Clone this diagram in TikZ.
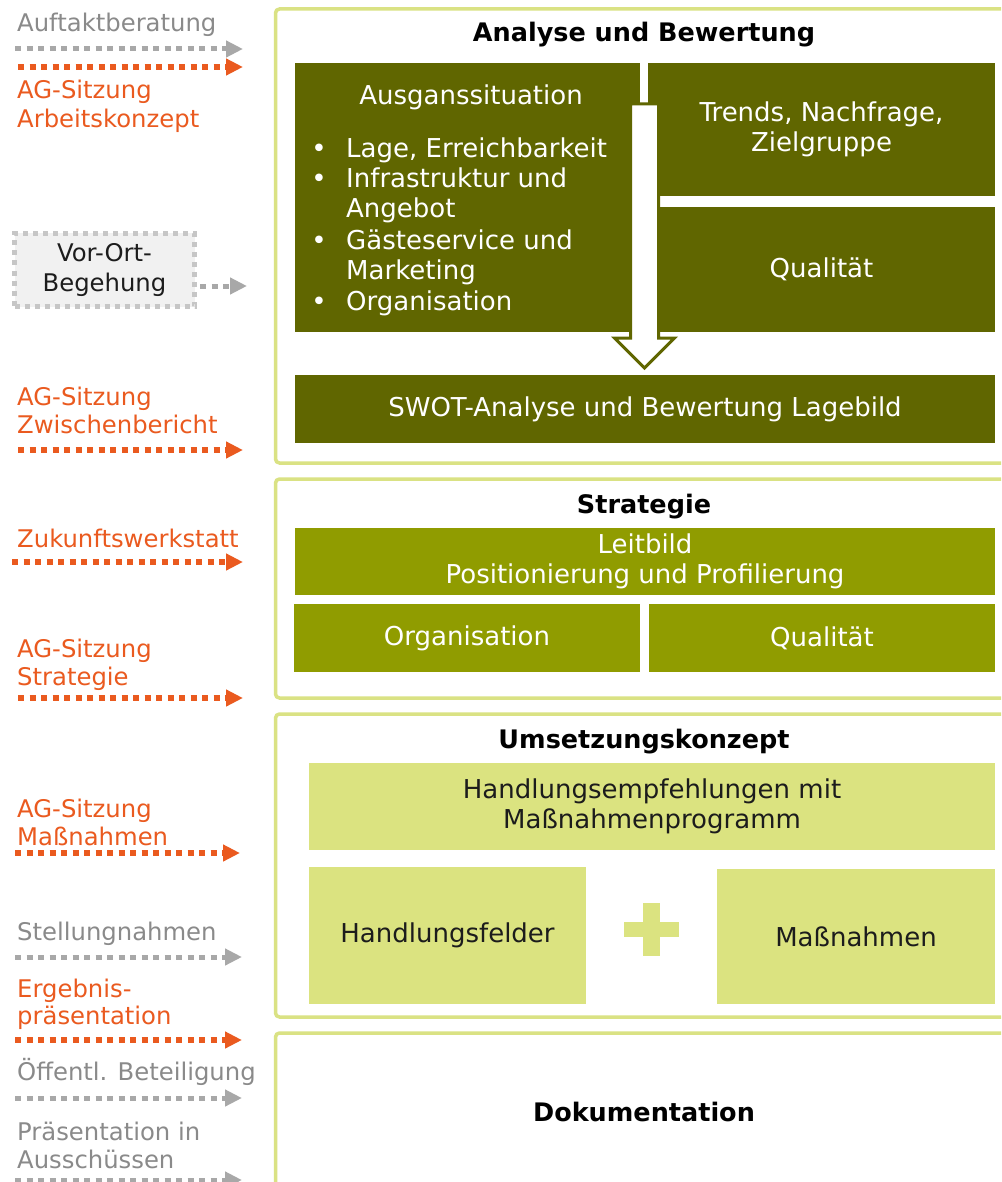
\documentclass[tikz,border=0pt]{standalone}
\usepackage{fontspec}
\setmainfont{DejaVu Sans}
\usetikzlibrary{arrows.meta}
\definecolor{dolive}{RGB}{96,102,0}
\definecolor{molive}{RGB}{144,156,0}
\definecolor{lgreen}{RGB}{219,227,128}
\definecolor{frgreen}{RGB}{218,226,132}
\definecolor{orng}{RGB}{234,90,31}
\definecolor{gtext}{RGB}{138,138,138}
\definecolor{gdot}{RGB}{168,168,168}
\definecolor{vbord}{RGB}{198,198,198}
\definecolor{vfill}{RGB}{241,241,241}
\definecolor{dtext}{RGB}{28,28,28}
\newcommand\boxfont{\fontsize{26}{30.5}\selectfont}
\newcommand\labfont{\fontsize{24.3}{30}\selectfont}
\newcommand\ttlfont{\fontsize{25.5}{30}\selectfont\bfseries}
\begin{document}
\begin{tikzpicture}[x=1pt,y=-1pt,
  frame/.style={draw=frgreen, line width=3.5pt, rounded corners=4pt, minimum width=737, inner sep=0},
  anybox/.style={inner sep=0, outer sep=0, align=center, font=\boxfont},
  obox/.style={anybox, fill=dolive, text=white},
  mbox/.style={anybox, fill=molive, text=white},
  lbox/.style={anybox, fill=lgreen, text=dtext},
  wtext/.style={inner sep=0, text=white, font=\boxfont},
  ttl/.style={inner sep=0, anchor=base, text=black, font=\ttlfont},
  glab/.style={anchor=base west, inner sep=0, text=gtext, font=\labfont},
  olab/.style={anchor=base west, inner sep=0, text=orng, font=\labfont},
  vbox/.style={draw=vbord, fill=vfill, line width=5pt, dash pattern=on 5pt off 5pt, inner sep=0,
    minimum width=180, minimum height=73, align=center, text=dtext, font=\labfont},
  garr/.style={draw=gdot, line width=5pt, dash pattern=on 6pt off 5.5pt, -{Triangle[length=17pt,width=16pt]}},
  oarr/.style={draw=orng, line width=5.5pt, dash pattern=on 6pt off 5.5pt, -{Triangle[length=17pt,width=16pt]}}
]
\useasboundingbox (0,0) rectangle (1001,1182);
\clip (0,0) rectangle (1001,1182);
\fill[white] (0,0) rectangle (1001,1182);

% frames
\node[frame, minimum height=454] (f1) at (644,236) {};
\node[frame, minimum height=219] (f2) at (644,588.5) {};
\node[frame, minimum height=303] (f3) at (644,865.5) {};
\node[frame, minimum height=206] (f4) at (644,1136) {};

% titles
\node[ttl] (t1) at (644,42) {Analyse und Bewertung};
\node[ttl] (t2) at (644,513) {Strategie};
\node[ttl] (t3) at (644,748) {Umsetzungskonzept};
\node[ttl] (t4) at (644,1121) {Dokumentation};

% analysis boxes
\node[obox, minimum width=345, minimum height=269] (aus) at (467.5,197.5) {};
\node[obox, minimum width=347, minimum height=133] (trend) at (821.5,129.5) {Trends, Nachfrage,\\Zielgruppe};
\node[obox, minimum width=347, minimum height=125] (qual1) at (821.5,269.5) {Qualität};
\node[obox, minimum width=700, minimum height=68] (swot) at (645,409) {SWOT-Analyse und Bewertung Lagebild};

% big arrow
\draw[draw=dolive, line width=3pt, fill=white, line join=miter]
  (630.5,104) -- (658.5,104) -- (658.5,338) -- (674.5,338) -- (644.5,368)
  -- (614.5,338) -- (630.5,338) -- cycle;

% Ausgangssituation text
\node[wtext, anchor=base] (aust) at (471,105) {Ausganssituation};
\node[wtext, anchor=base] (b1) at (319,158) {•};
\node[wtext, anchor=base west] (i1) at (346,158) {Lage, Erreichbarkeit};
\node[wtext, anchor=base] (b2) at (319,188) {•};
\node[wtext, anchor=base west] (i2) at (346,188) {Infrastruktur und};
\node[wtext, anchor=base west] (i2b) at (346,218) {Angebot};
\node[wtext, anchor=base] (b3) at (319,249) {•};
\node[wtext, anchor=base west] (i3) at (346,249) {Gästeservice und};
\node[wtext, anchor=base west] (i3b) at (346,279) {Marketing};
\node[wtext, anchor=base] (b4) at (319,310) {•};
\node[wtext, anchor=base west] (i4) at (346,310) {Organisation};

% strategy boxes
\node[mbox, minimum width=700, minimum height=67] (leit) at (645,561.5) {Leitbild\\Positionierung und Profilierung};
\node[mbox, minimum width=346, minimum height=68] (org) at (467,638) {Organisation};
\node[mbox, minimum width=346, minimum height=68] (qual2) at (822,638) {Qualität};

% implementation boxes
\node[lbox, minimum width=686, minimum height=87] (hemp) at (652,806.5) {Handlungsempfehlungen mit\\Maßnahmenprogramm};
\node[lbox, minimum width=277, minimum height=137] (hf) at (447.5,935.5) {Handlungsfelder};
\node[lbox, minimum width=278, minimum height=135] (mn) at (856,936.5) {Maßnahmen};
\fill[lgreen] (643,903) rectangle (660,956);
\fill[lgreen] (624,922) rectangle (679,937);

% left labels
\node[glab] (l1) at (17,32) {Auftaktberatung};
\node[olab] (l2a) at (17,99) {AG-Sitzung};
\node[olab] (l2b) at (17,128) {Arbeitskonzept};
\node[vbox] (vor) at (104.5,270) {Vor-Ort-\\Begehung};
\node[olab] (l3a) at (17,405) {AG-Sitzung};
\node[olab] (l3b) at (17,433) {Zwischenbericht};
\node[olab] (l4) at (17,547) {Zukunftswerkstatt};
\node[olab] (l5a) at (17,657) {AG-Sitzung};
\node[olab] (l5b) at (17,685) {Strategie};
\node[olab] (l6a) at (17,817) {AG-Sitzung};
\node[olab] (l6b) at (17,845) {Maßnahmen};
\node[glab] (l7) at (17,940) {Stellungnahmen};
\node[olab] (l8a) at (17,997) {Ergebnis-};
\node[olab] (l8b) at (17,1024) {präsentation};
\node[glab] (l9) at (17,1080) {Öffentl. Beteiligung};
\node[glab] (l10a) at (17,1140) {Präsentation in};
\node[glab] (l10b) at (17,1168) {Ausschüssen};

% arrow coordinates
\coordinate (a1s) at (15,49);   \coordinate (a1e) at (243,49);
\coordinate (a2s) at (18,67);   \coordinate (a2e) at (243,67);
\coordinate (vve) at (247,286);
\coordinate (a3s) at (18,450);  \coordinate (a3e) at (243,450);
\coordinate (a4s) at (12,562);  \coordinate (a4e) at (243,562);
\coordinate (a5s) at (18,698);  \coordinate (a5e) at (243,698);
\coordinate (a6s) at (15,853);  \coordinate (a6e) at (240,853);
\coordinate (a7s) at (15,957);  \coordinate (a7e) at (242,957);
\coordinate (a8s) at (15,1040); \coordinate (a8e) at (242,1040);
\coordinate (a9s) at (15,1098); \coordinate (a9e) at (242,1098);
\coordinate (a10s) at (15,1180); \coordinate (a10e) at (242,1180);

\draw[garr] (a1s) -- (a1e);
\draw[oarr] (a2s) -- (a2e);
\draw[garr] ([yshift=-16pt,xshift=3pt]vor.east) -- (vve);
\draw[oarr] (a3s) -- (a3e);
\draw[oarr] (a4s) -- (a4e);
\draw[oarr] (a5s) -- (a5e);
\draw[oarr] (a6s) -- (a6e);
\draw[garr] (a7s) -- (a7e);
\draw[oarr] (a8s) -- (a8e);
\draw[garr] (a9s) -- (a9e);
\draw[garr] (a10s) -- (a10e);
\end{tikzpicture}
\end{document}
